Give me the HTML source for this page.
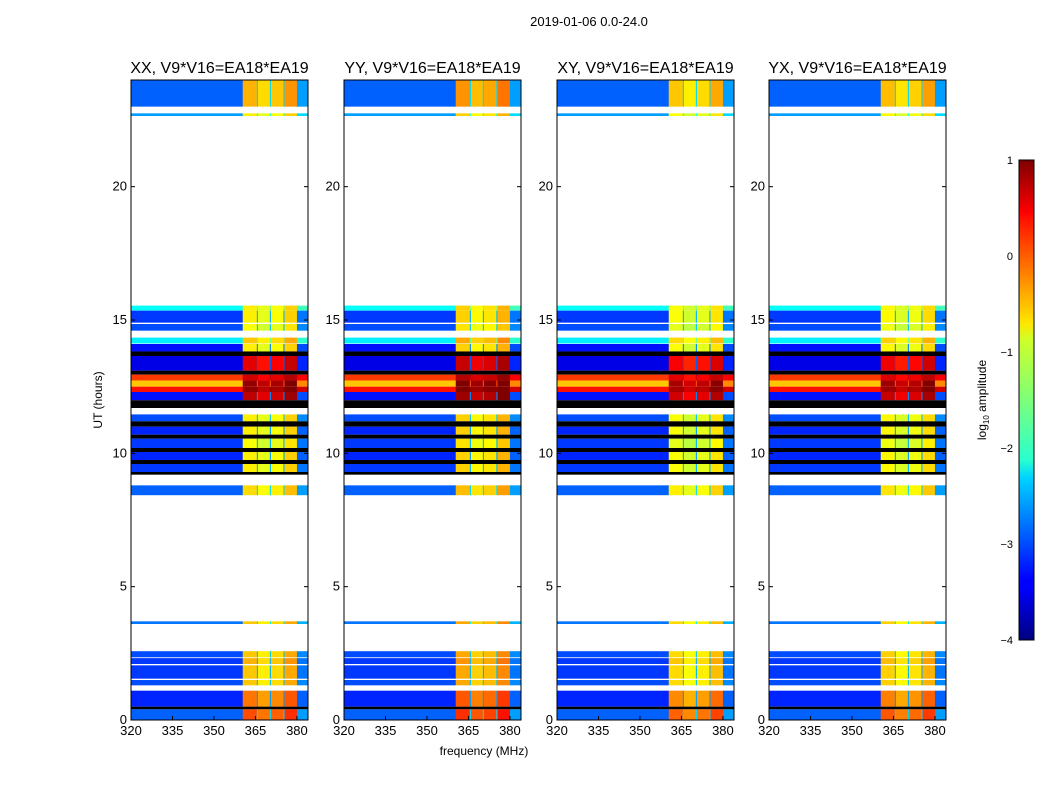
<!DOCTYPE html>
<html><head><meta charset="utf-8"><style>
body{margin:0;background:#fff;}
svg text{font-family:"Liberation Sans",sans-serif;}
</style></head><body>
<svg id="fig" width="1050" height="800" xmlns="http://www.w3.org/2000/svg">
<text x="589" y="26" font-size="13" text-anchor="middle">2019-01-06 0.0-24.0</text>
<text x="484" y="755" font-size="12" text-anchor="middle">frequency (MHz)</text>
<text transform="translate(102,400) rotate(-90)" font-size="12" text-anchor="middle">UT (hours)</text>
<defs><linearGradient id="jet" x1="0" y1="1" x2="0" y2="0">
<stop offset="0" stop-color="#00007f"/><stop offset="0.11" stop-color="#0000ff"/><stop offset="0.125" stop-color="#0000ff"/><stop offset="0.34" stop-color="#00d5ff"/><stop offset="0.375" stop-color="#29ffce"/><stop offset="0.5" stop-color="#7dff7a"/><stop offset="0.625" stop-color="#ceff29"/><stop offset="0.66" stop-color="#ffe600"/><stop offset="0.875" stop-color="#ff1400"/><stop offset="0.89" stop-color="#ff0000"/><stop offset="1" stop-color="#7f0000"/>
</linearGradient></defs>
<g id="panels"></g>
<g>
<rect x="1019" y="160" width="15" height="480" fill="url(#jet)" stroke="#000" stroke-width="1"/>
<text x="1013" y="164" font-size="11" text-anchor="end">1</text>
<text x="1013" y="260" font-size="11" text-anchor="end">0</text>
<text x="1013" y="356" font-size="11" text-anchor="end">−1</text>
<text x="1013" y="452" font-size="11" text-anchor="end">−2</text>
<text x="1013" y="548" font-size="11" text-anchor="end">−3</text>
<text x="1013" y="644" font-size="11" text-anchor="end">−4</text>
<text transform="translate(986,400) rotate(-90)" font-size="12" text-anchor="middle">log<tspan font-size="8" dy="3">10</tspan><tspan dy="-3"> amplitude</tspan></text>
</g>
</svg>
<script>
// time rows: start hour, end hour, background log level, band log level (null = flagged/black)
const rowStart=[23.0,22.65,15.35,14.9,14.6,14.12,13.82,13.65,13.1,12.95,12.73,12.5,12.3,11.99,11.7,11.2,11.0,10.7,10.55,10.2,10.05,9.75,9.6,9.3,9.2,8.43,3.6,2.35,2.1,1.55,1.3,0.5,0.4,0.0];
const rowEnd  =[24.0,22.75,15.54,15.35,14.85,14.34,14.1,13.82,13.65,13.1,12.95,12.73,12.5,12.3,11.99,11.46,11.2,11.0,10.7,10.55,10.2,10.05,9.75,9.6,9.3,8.8,3.7,2.58,2.32,2.05,1.5,1.1,0.5,0.4];
const rowBg   =[-2.9,-2.6,-2.1,-3.1,-3.0,-2.2,-3.3,null,-3.5,null,0.1,-0.6,0.3,-3.3,null,-3.0,null,-3.2,null,-3.1,null,-3.2,null,-3.1,null,-2.9,-2.8,-3.0,-3.1,-3.1,-3.0,-3.2,null,-2.9];
const rowBand =[-0.6,-0.9,-0.9,-0.9,-1.0,-0.7,-0.9,null,0.4,null,0.5,0.8,0.8,0.6,null,-0.9,null,-0.9,null,-1.0,null,-0.9,null,-0.9,null,-0.8,-0.7,-0.7,-0.6,-0.7,-0.7,-0.3,null,-0.1];
// frequency sub-bands (MHz) and relative level offsets
const subStart=[320,360.4,365.5,365.9,370.2,370.6,375.1,375.5,380.0];
const subEnd  =[360.4,365.5,365.9,370.2,370.6,375.1,375.5,380.0,384];
const subKind =['bg','band','notch','band','notch','band','notch','band','bg'];
const subOff  =[0,0.1,0,-0.1,0,0.0,0,0.25,0.3];
const panelTitles=['XX, V9*V16=EA18*EA19','YY, V9*V16=EA18*EA19','XY, V9*V16=EA18*EA19','YX, V9*V16=EA18*EA19'];
const panelOff=[0,0.15,-0.1,-0.05];
const xTicks=[320,335,350,365,380];
const yTicks=[0,5,10,15,20];
const panelLeft=[131,344,557,769];
const W=177,TOP=80,BOT=720;
function jet(v){let t=(v+4)/5;t=Math.max(0,Math.min(1,t));
 const r=Math.max(0,Math.min(1,1.5-Math.abs(4*t-3))),g=Math.max(0,Math.min(1,1.5-Math.abs(4*t-2))),b=Math.max(0,Math.min(1,1.5-Math.abs(4*t-1)));
 return `rgb(${Math.round(r*255)},${Math.round(g*255)},${Math.round(b*255)})`;}
const NS='http://www.w3.org/2000/svg';
const root=document.getElementById('panels');
function mk(tag,attrs,parent){const e=document.createElementNS(NS,tag);for(const k in attrs)e.setAttribute(k,attrs[k]);parent.appendChild(e);return e;}
panelLeft.forEach((L,p)=>{
 const g=mk('g',{},root);
 
 
 const xs=f=>L+(f-320)*(W/(384-320));
 const ys=h=>BOT-(h/24)*(BOT-TOP);
 for(let i=0;i<rowStart.length;i++){
  for(let j=0;j<subStart.length;j++){
   let fill;
   if(rowBg[i]===null) fill='#000';
   else{
    let v=subKind[j]==='bg'?rowBg[i]+subOff[j]:subKind[j]==='notch'?rowBg[i]+0.6:rowBand[i]+subOff[j]+panelOff[p];
    fill=jet(v);
   }
   const c=mk('rect',{x:xs(subStart[j]),y:ys(rowEnd[i]),width:xs(subEnd[j])-xs(subStart[j])+0.3,height:ys(rowStart[i])-ys(rowEnd[i]),fill:fill},g);
   
   
  }
 }
 mk('rect',{x:L,y:TOP,width:W,height:BOT-TOP,fill:'none',stroke:'#000','stroke-width':1},g);
 const t=mk('text',{x:L+W/2,y:73,'font-size':16,'text-anchor':'middle'},g);t.textContent=panelTitles[p];
 
 
 xTicks.forEach(v=>{const x=xs(v);mk('line',{x1:x,x2:x,y1:BOT,y2:BOT-4,stroke:'#000'},g);
  const tx=mk('text',{x:x,y:BOT+15,'font-size':13,'text-anchor':'middle'},g);tx.textContent=v;
  
  });
 yTicks.forEach(v=>{const y=ys(v);mk('line',{x1:L,x2:L+4,y1:y,y2:y,stroke:'#000'},g);mk('line',{x1:L+W,x2:L+W-4,y1:y,y2:y,stroke:'#000'},g);
  const ty=mk('text',{x:L-4,y:y+4,'font-size':13,'text-anchor':'end'},g);ty.textContent=v;
  
  });
});
</script>
</body></html>
